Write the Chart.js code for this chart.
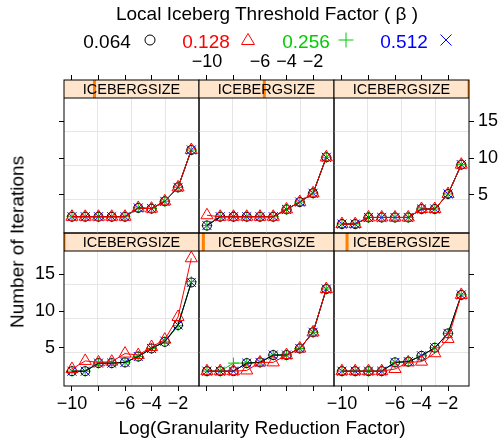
<!DOCTYPE html>
<html>
<head>
<meta charset="utf-8">
<script src="https://cdn.jsdelivr.net/npm/chart.js@4.4.1/dist/chart.umd.min.js"></script>
<style>
body{margin:0;background:#fff;}
#wrap{position:relative;width:502px;height:444px;overflow:hidden;font-family:"Liberation Sans",Arial,sans-serif;color:#000;}
#wrap canvas{position:absolute;left:0;top:0;}
.txt{position:absolute;white-space:nowrap;transform:translate(-50%,-50%);line-height:1;}
.sym{position:absolute;transform:translate(-50%,-50%);}
</style>
</head>
<body>
<div id="wrap">
  <canvas id="p1" width="502" height="444"></canvas>
  <canvas id="p2" width="502" height="444"></canvas>
  <canvas id="p3" width="502" height="444"></canvas>
  <canvas id="p4" width="502" height="444"></canvas>
  <canvas id="p5" width="502" height="444"></canvas>
  <canvas id="p6" width="502" height="444"></canvas>

  <div class="txt" style="left:267px;top:13px;font-size:19px">Local Iceberg Threshold Factor ( β )</div>

  <div class="txt" style="left:107px;top:41px;font-size:19px">0.064</div>
  <svg class="sym" style="left:150px;top:40px" width="14" height="14"><circle cx="7" cy="7" r="5" fill="none" stroke="#000" stroke-width="1"/></svg>
  <div class="txt" style="left:206px;top:41px;font-size:19px;color:#FF0000">0.128</div>
  <svg class="sym" style="left:248px;top:39px" width="16" height="14"><polygon points="8,1.5 14.5,12.5 1.5,12.5" fill="none" stroke="#FF0000" stroke-width="1"/></svg>
  <div class="txt" style="left:306px;top:41px;font-size:19px;color:#00CD00">0.256</div>
  <svg class="sym" style="left:346px;top:40px" width="18" height="18"><path d="M1.5 9H16.5M9 1.5V16.5" stroke="#00CD00" stroke-width="1"/></svg>
  <div class="txt" style="left:404px;top:41px;font-size:19px;color:#0000FF">0.512</div>
  <svg class="sym" style="left:446px;top:40px" width="14" height="14"><path d="M1.5 1.5L12.5 12.5M12.5 1.5L1.5 12.5" stroke="#0000FF" stroke-width="1"/></svg>

  <div class="txt" style="left:262px;top:427px;font-size:19px">Log(Granularity Reduction Factor)</div>
  <div class="txt" style="left:17px;top:242px;font-size:19px;transform:translate(-50%,-50%) rotate(-90deg)">Number of Iterations</div>
</div>
<script>
/* Data */
const logGRF=[-10,-9,-8,-7,-6,-5,-4,-3,-2,-1];
const betaLevels=['0.064','0.128','0.256','0.512'];
const icebergSizes=[64,128,256,512,1024,2048];
const xTickValues=[-10,-8,-6,-4,-2];
const xTickText=['\u221210','','\u22126','\u22124','\u22122'];
const yTickValues=[5,10,15];

/* rows: beta 0.064, 0.128, 0.256, 0.512 */
const itersSize64=[
  [1.8,1.8,2.9,2.9,3.0,3.8,4.9,5.8,8.1,13.9],
  [2.1,3.2,3.0,3.1,4.2,4.0,5.1,6.1,9.2,17.2],
  [1.8,1.8,2.9,2.9,3.0,3.8,4.9,5.8,8.0,14.0],
  [1.8,1.8,2.9,2.9,3.0,3.8,4.9,5.9,8.1,13.9]
];
const itersSize128=[
  [1.8,1.8,1.8,2.9,3.0,4.0,4.0,4.9,7.1,13.0],
  [1.8,1.8,1.8,1.9,3.0,3.0,4.0,4.9,7.1,13.0],
  [1.8,1.8,2.9,2.9,3.0,4.0,4.0,4.9,7.1,13.0],
  [1.8,1.8,1.8,2.9,3.0,4.0,4.0,4.9,7.1,13.0]
];
const itersSize256=[
  [1.8,1.8,1.8,1.8,3.0,3.1,3.9,5.0,6.95,12.2],
  [1.8,1.8,1.8,1.8,2.1,3.0,3.1,4.25,6.2,12.2],
  [1.8,1.8,1.8,1.8,3.0,3.1,3.9,5.0,6.95,12.2],
  [1.8,1.8,1.8,1.8,3.0,3.1,3.9,5.0,6.95,12.2]
];
const itersSize512=[
  [2.0,2.0,2.0,2.0,2.0,3.2,3.1,4.1,6.0,11.1],
  [2.0,2.0,2.0,2.0,2.0,3.2,3.1,4.1,6.0,11.1],
  [2.0,2.0,2.0,2.0,2.0,3.2,3.1,4.1,6.0,11.1],
  [2.0,2.0,2.0,2.0,2.0,3.2,3.1,4.1,6.0,11.1]
];
const itersSize1024=[
  [0.8,2.0,2.0,2.0,2.0,2.0,3.0,4.0,5.2,10.1],
  [2.2,2.0,2.0,2.0,2.0,2.0,3.0,4.0,5.2,10.1],
  [0.8,2.0,2.0,2.0,2.0,2.0,3.0,4.0,5.2,10.1],
  [0.8,2.0,2.0,2.0,2.0,2.0,3.0,4.0,5.2,10.1]
];
const itersSize2048=[
  [1.0,1.0,1.9,1.9,1.9,1.9,3.05,3.05,5.1,9.1],
  [1.0,1.0,1.9,1.9,1.9,1.9,3.05,3.05,5.1,9.1],
  [1.0,1.0,1.9,1.9,1.9,1.9,3.05,3.05,5.1,9.1],
  [1.0,1.0,1.9,1.9,1.9,1.9,3.05,3.05,5.1,9.1]
];

/* Styles */
const FONT='"Liberation Sans", Arial, sans-serif';
const seriesColors=['#000000','#FF0000','#00CD00','#0000FF'];
const seriesPoints=['circle','triangle','cross','crossRot'];
const seriesRadius=[4.5,7,5.5,6.4];
const seriesOrder=[1,0,2,3]; /* red drawn on top, then black */

/* Layout of the lattice */
const X_MIN=-10.6, X_MAX=-0.42, Y_MIN=-0.22, Y_TOP=18.19;
const STRIP_H=18, PANEL_W=135, PANEL_H=135;
const colLeft=[64,199,334];
const rowTop=[80,233];
const Y_MAX=Y_TOP+STRIP_H*(Y_TOP-Y_MIN)/PANEL_H;
const sizeMin=Math.min(...icebergSizes), sizeMax=Math.max(...icebergSizes);

function quarterTicks(min, max) {
  return [1,2,3].map(k=>({value: min+k*(max-min)/4}));
}

const stripPlugin={
  id: 'strip',
  afterDatasetsDraw(chart, args, opts) {
    const ctx=chart.ctx;
    const a=chart.chartArea;
    const yb=chart.scales.y.getPixelForValue(Y_TOP);
    ctx.save();
    ctx.fillStyle='#FFE5CC';
    ctx.fillRect(a.left,a.top,a.right-a.left,yb-a.top);
    /* shingle level marker */
    const f=(opts.size-sizeMin)/(sizeMax-sizeMin);
    const cx=a.left+f*(a.right-a.left);
    const x0=Math.max(a.left,cx-1.5), x1=Math.min(a.right,cx+1.5);
    ctx.fillStyle='#FF7F00';
    ctx.fillRect(x0,a.top,x1-x0,yb-a.top);
    ctx.fillStyle='#000';
    ctx.font='14.5px '+FONT;
    ctx.textAlign='center';
    ctx.textBaseline='middle';
    ctx.fillText('ICEBERGSIZE',(a.left+a.right)/2,(a.top+yb)/2+1);
    /* panel border */
    ctx.strokeStyle='#000';
    ctx.lineWidth=1;
    ctx.strokeRect(a.left,a.top,a.right-a.left,a.bottom-a.top);
    ctx.beginPath();
    ctx.moveTo(a.left,yb);
    ctx.lineTo(a.right,yb);
    ctx.stroke();
    ctx.restore();
  }
};

function makePanel(canvasId, iters, size, row, col) {
  const showX=(row===1 && col!==1) || (row===0 && col===1);
  const showY=(row===1 && col===0) || (row===0 && col===2);
  const left=colLeft[col], top=rowTop[row];
  const yAxisW=(col===0) ? 40 : (col===2 ? 30 : 0);
  const datasets=iters.map((vals,i)=>({
    label: betaLevels[i],
    data: vals.map((v,k)=>({x: logGRF[k], y: v})),
    borderColor: seriesColors[i],
    backgroundColor: 'rgba(0,0,0,0)',
    borderWidth: 1,
    pointStyle: seriesPoints[i],
    pointRadius: seriesRadius[i],
    pointBorderColor: seriesColors[i],
    pointBackgroundColor: 'rgba(0,0,0,0)',
    pointBorderWidth: 1,
    tension: 0,
    order: seriesOrder[i]
  }));
  const tickFont={size: 18, family: FONT};
  return new Chart(document.getElementById(canvasId), {
    type: 'line',
    data: {datasets: datasets},
    plugins: [stripPlugin],
    options: {
      responsive: false,
      animation: false,
      events: [],
      layout: {
        autoPadding: false,
        padding: {
          left: col===0 ? left-yAxisW : left,
          right: col===2 ? 502-(left+PANEL_W)-yAxisW : 502-(left+PANEL_W),
          top: row===0 ? top-40 : top,
          bottom: row===1 ? 444-(top+STRIP_H+PANEL_H)-40 : 444-(top+STRIP_H+PANEL_H)
        }
      },
      plugins: {
        legend: {display: false},
        tooltip: {enabled: false},
        strip: {size: size}
      },
      scales: {
        x: {
          type: 'linear', position: row===0 ? 'top' : 'bottom',
          min: X_MIN, max: X_MAX,
          afterBuildTicks: s=>{s.ticks=xTickValues.map(v=>({value: v}));},
          afterFit: s=>{s.height=40;},
          ticks: {display: showX, autoSkip: false, maxRotation: 0, padding: 2, color: '#000', font: tickFont,
            callback: v=>xTickText[xTickValues.indexOf(v)]},
          grid: {drawOnChartArea: false, tickLength: 5, tickColor: '#000', tickWidth: 1},
          border: {display: false}
        },
        y: {
          type: 'linear', display: col!==1, position: col===2 ? 'right' : 'left',
          min: Y_MIN, max: Y_MAX,
          afterBuildTicks: s=>{s.ticks=yTickValues.map(v=>({value: v}));},
          afterFit: s=>{s.width=yAxisW;},
          ticks: {display: showY, padding: 4, color: '#000', font: tickFont},
          grid: {drawOnChartArea: false, tickLength: 5, tickColor: '#000', tickWidth: 1},
          border: {display: false}
        },
        xg: {
          type: 'linear', position: 'bottom', min: X_MIN, max: X_MAX,
          afterBuildTicks: s=>{s.ticks=quarterTicks(X_MIN,X_MAX);},
          afterFit: s=>{s.height=0;},
          ticks: {display: false},
          grid: {color: '#E6E6E6', lineWidth: 1, drawTicks: false},
          border: {display: false}
        },
        yg: {
          type: 'linear', position: 'left', min: Y_MIN, max: Y_MAX,
          afterBuildTicks: s=>{s.ticks=quarterTicks(Y_MIN,Y_TOP);},
          afterFit: s=>{s.width=0;},
          ticks: {display: false},
          grid: {color: '#E6E6E6', lineWidth: 1, drawTicks: false},
          border: {display: false}
        }
      }
    }
  });
}

/* lattice order: bottom-left first */
makePanel('p1', itersSize64, icebergSizes[0], 1, 0);
makePanel('p2', itersSize128, icebergSizes[1], 1, 1);
makePanel('p3', itersSize256, icebergSizes[2], 1, 2);
makePanel('p4', itersSize512, icebergSizes[3], 0, 0);
makePanel('p5', itersSize1024, icebergSizes[4], 0, 1);
makePanel('p6', itersSize2048, icebergSizes[5], 0, 2);
</script>
</body>
</html>
